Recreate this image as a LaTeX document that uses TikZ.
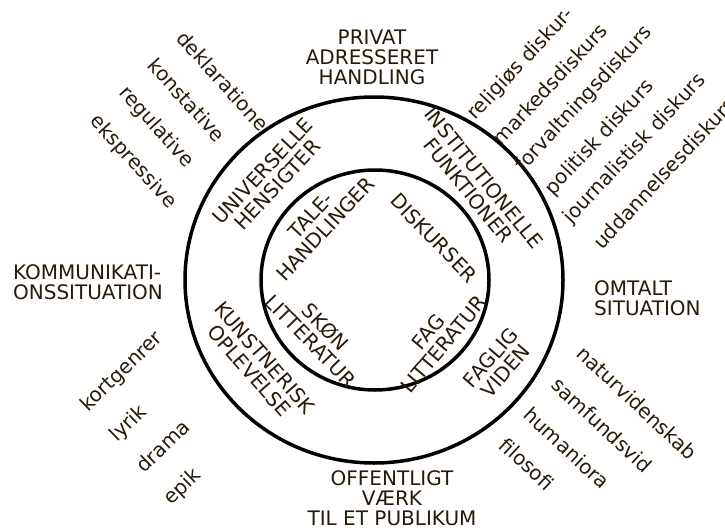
\documentclass[tikz,border=0pt]{standalone}
\usepackage{fontspec}
\setmainfont{DejaVu Sans}
\definecolor{txtbrown}{RGB}{40,26,8}
\tikzset{
  lbl/.style={text=txtbrown, font=\fontsize{20}{20}\selectfont, align=center, inner sep=0pt},
  ring/.style={black, line width=3.5pt}
}

\begin{document}
\begin{tikzpicture}[x=1pt,y=-1pt]
\useasboundingbox (0,0) rectangle (725,530);

% circles
\draw[ring] (374,280) ellipse [x radius=189pt, y radius=183pt];
\draw[ring] (375,280) ellipse [x radius=114pt, y radius=110pt];

% outer headings
\node[lbl] (privat) at (372,57) {PRIVAT\\ADRESSERET\\HANDLING};
\node[lbl, align=left] (kommunikation) at (88,282) {KOMMUNIKATI-\\ONSSITUATION};
\node[lbl, align=left, anchor=west] (omtalt) at (594,298) {OMTALT\\SITUATION};
\node[lbl] (offentligt) at (392,498) {OFFENTLIGT\\VÆRK\\TIL ET PUBLIKUM};

% talehandlinger
\node[lbl, rotate=-48] (deklaratione) at (223,81) {deklaratione};
\node[lbl, rotate=-48] (konstative) at (187,100) {konstative};
\node[lbl, rotate=-48] (regulative) at (156,127) {regulative};
\node[lbl, rotate=-48] (ekspressive) at (133,162) {ekspressive};

% diskurser
\node[lbl, rotate=47] (religioes) at (521,64) {religiøs diskur-};
\node[lbl, rotate=47] (markeds) at (550,84) {markedsdiskurs};
\node[lbl, rotate=47] (forvaltnings) at (584,99) {forvaltningsdiskurs};
\node[lbl, rotate=47] (politisk) at (600,138) {politisk diskurs};
\node[lbl, rotate=47] (journalistisk) at (635,149) {journalistisk diskurs};
\node[lbl, rotate=47] (uddannelses) at (664,173) {uddannelsesdiskurs};

% skønlitteratur
\node[lbl, rotate=44] (kortgenrer) at (122,372) {kortgenrer};
\node[lbl, rotate=44] (lyrik) at (129,424) {lyrik};
\node[lbl, rotate=44] (drama) at (163,446) {drama};
\node[lbl, rotate=44] (epik) at (183,487) {epik};

% faglitteratur
\node[lbl, rotate=-43] (natur) at (637,403) {naturvidenskab};
\node[lbl, rotate=-43] (samfunds) at (602,425) {samfundsvid};
\node[lbl, rotate=-43] (humaniora) at (567,448) {humaniora};
\node[lbl, rotate=-43] (filosofi) at (527,464) {filosofi};

% ring between circles
\node[lbl, rotate=47] (universelle) at (270,178) {UNIVERSELLE\\HENSIGTER};
\node[lbl, rotate=-51] (institutionelle) at (476,184) {INSTITUTIONELLE\\FUNKTIONER};
\node[lbl, rotate=-49] (kunstnerisk) at (257,364) {KUNSTNERISK\\OPLEVELSE};
\node[lbl, rotate=49] (faglig) at (498,364) {FAGLIG\\VIDEN};

% inner circle
\node[lbl, rotate=47] (tale) at (318,222) {TALE-\\HANDLINGER};
\node[lbl, rotate=-46] (diskurser) at (434,238) {DISKURSER};
\node[lbl, rotate=-46] (skoen) at (318,334) {SKØN\\LITTERATUR};
\node[lbl, rotate=50] (fag) at (436,338) {FAG\\LITTERATUR};

\end{tikzpicture}
\end{document}
